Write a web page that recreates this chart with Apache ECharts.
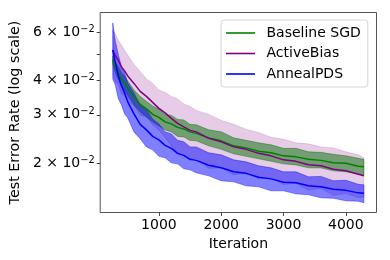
<!DOCTYPE html>
<html><head><meta charset="utf-8">
<script src="https://cdn.jsdelivr.net/npm/echarts@6/dist/echarts.min.js"></script>
<style>html,body{margin:0;padding:0;background:#fff}#c{width:390px;height:260px}</style>
</head><body><div id="c"></div>
<script>
const iterations = [260,300,350,400,450,500,600,700,800,900,1000,1100,1200,1300,1400,1500,1600,1800,2000,2200,2400,2600,2800,3000,3200,3400,3600,3800,4000,4200,4290];

const sgdMean  = [.04750,.04462,.04261,.04035,.03918,.03742,.03484,.03272,.03152,.03009,.02935,.02826,.02779,.02699,.02665,.02599,.02567,.02472,.02411,.02312,.02273,.02208,.02181,.02126,.02108,.02065,.02047,.02005,.01997,.01947,.01939];
const sgdUpper = [.04912,.04653,.04481,.04261,.04155,.03985,.03694,.03499,.03357,.03231,.03139,.03009,.02984,.02886,.02874,.02768,.02757,.02644,.02600,.02472,.02421,.02371,.02332,.02264,.02264,.02199,.02189,.02153,.02127,.02082,.02065];
const sgdLower = [.04593,.04279,.04035,.03805,.03710,.03529,.03258,.03073,.02947,.02826,.02733,.02643,.02599,.02503,.02492,.02420,.02411,.02312,.02245,.02162,.02117,.02074,.02031,.01988,.01971,.01923,.01922,.01875,.01860,.01828,.01813];

const abMean  = [.05165,.04932,.04730,.04480,.04333,.04155,.03902,.03649,.03499,.03328,.03165,.03047,.02910,.02791,.02710,.02632,.02599,.02462,.02391,.02292,.02245,.02171,.02126,.02056,.02030,.01972,.01956,.01899,.01875,.01821,.01798];
const abUpper = [.06106,.05905,.05593,.05386,.05143,.04953,.04574,.04314,.04052,.03902,.03695,.03619,.03499,.03426,.03286,.03218,.03112,.03009,.02862,.02768,.02654,.02588,.02483,.02441,.02371,.02351,.02292,.02273,.02199,.02144,.02091];
const abLower = [.04224,.03959,.03867,.03574,.03523,.03357,.03230,.02984,.02946,.02754,.02635,.02475,.02321,.02156,.02134,.02046,.02086,.01915,.01920,.01816,.01836,.01754,.01769,.01671,.01689,.01593,.01620,.01525,.01551,.01498,.01505];

const pdsMean  = [.05165,.04671,.04155,.03821,.03603,.03342,.03022,.02768,.02643,.02503,.02431,.02321,.02264,.02171,.02135,.02065,.02047,.01964,.01923,.01860,.01836,.01776,.01753,.01703,.01696,.01654,.01640,.01606,.01592,.01559,.01553];
const pdsUpper = [.06475,.05569,.04953,.04480,.04261,.03918,.03603,.03259,.03125,.02898,.02779,.02599,.02556,.02421,.02391,.02292,.02292,.02181,.02144,.02056,.02022,.01956,.01923,.01860,.01860,.01783,.01790,.01725,.01732,.01675,.01668];
const pdsLower = [.04052,.03853,.03426,.03259,.03022,.02923,.02599,.02452,.02292,.02236,.02117,.02091,.02005,.01988,.01907,.01891,.01844,.01798,.01725,.01710,.01654,.01640,.01586,.01586,.01546,.01534,.01496,.01490,.01459,.01453,.01435];

const seriesNames = ['Baseline SGD','ActiveBias','AnnealPDS'];
const xTicks = [1000,2000,3000,4000];
const yTicks = [0.02,0.03,0.04,0.05,0.06];
const yTickLabels = [0.02,0.03,0.04,0.06];

const FONT = 'DejaVu Sans';

function band(name, lower, upper, fill, z) {
  const data = iterations.map((x,i)=>[x, lower[i], upper[i]]);
  return {
    type:'custom', name: name, data: data, silent:true, z: z,
    encode:{x:0, y:[1,2]},
    renderItem: function(params, api){
      if (params.dataIndex !== 0) return null;
      const top = data.map(d=>api.coord([d[0], d[2]]));
      const bot = data.map(d=>api.coord([d[0], d[1]])).reverse();
      return {type:'polygon', shape:{points: top.concat(bot)}, style:{fill: fill, stroke: fill, lineWidth: 0.8}};
    }
  };
}
function line(name, mean, color) {
  return {
    type:'line', name: name, data: iterations.map((x,i)=>[x, mean[i]]),
    symbol:'none', lineStyle:{color: color, width:1.5}, itemStyle:{color: color}, z:5
  };
}

const chart = echarts.init(document.getElementById('c'), null, {renderer:'canvas'});
chart.setOption({
  animation:false,
  grid:{left:92.5, right:13.5, top:12.5, bottom:47.5, show:true, borderColor:'#555', borderWidth:1, backgroundColor:'transparent'},
  legend:{
    data: seriesNames, orient:'vertical', left:221, top:20,
    icon:'rect', padding:[6,7,6,5], itemWidth:29, itemHeight:1.6, itemGap:6.5,
    textStyle:{fontFamily:FONT, fontSize:14, color:'#000', padding:[0,0,0,6.5]},
    backgroundColor:'rgba(255,255,255,0.8)', borderColor:'#d4d4d4', borderWidth:1, borderRadius:3
  },
  xAxis:{
    type:'value', min:58, max:4492,
    axisLine:{show:false},
    axisTick:{show:true, customValues:xTicks, length:3.5, lineStyle:{color:'#444'}},
    axisLabel:{customValues:xTicks, margin:6, fontFamily:FONT, fontSize:14, color:'#000',
      formatter:function(v){ return String(Math.round(v)); }},
    splitLine:{show:false},
    name:'Iteration', nameLocation:'middle', nameGap:23,
    nameTextStyle:{fontFamily:FONT, fontSize:14, color:'#000'}
  },
  yAxis:{
    type:'log', logBase:10, min:0.013224, max:0.0707,
    axisLine:{show:false},
    axisTick:{show:true, customValues:yTicks, length:3.5, lineStyle:{color:'#444'}},
    axisLabel:{
      customValues:yTickLabels, margin:5.5,
      formatter:function(v){ return '{m|' + Math.round(v*100) + ' × 10}{s|−2}'; },
      rich:{
        m:{fontFamily:FONT, fontSize:14, color:'#000', lineHeight:16},
        s:{fontFamily:FONT, fontSize:9.8, color:'#000', verticalAlign:'top'}
      }
    },
    splitLine:{show:false},
    name:'Test Error Rate (log scale)', nameLocation:'middle', nameGap:70,
    nameTextStyle:{fontFamily:FONT, fontSize:14.3, color:'#000'}
  },
  series:[
    band('ActiveBias band', abLower, abUpper, 'rgba(128,0,128,0.2)', 1),
    band('Baseline SGD band', sgdLower, sgdUpper, 'rgba(0,110,0,0.5)', 2),
    band('AnnealPDS band', pdsLower, pdsUpper, 'rgba(0,0,255,0.5)', 3),
    line('Baseline SGD', sgdMean, '#008000'),
    line('ActiveBias', abMean, '#800080'),
    line('AnnealPDS', pdsMean, '#0000ff')
  ]
});
</script></body></html>
